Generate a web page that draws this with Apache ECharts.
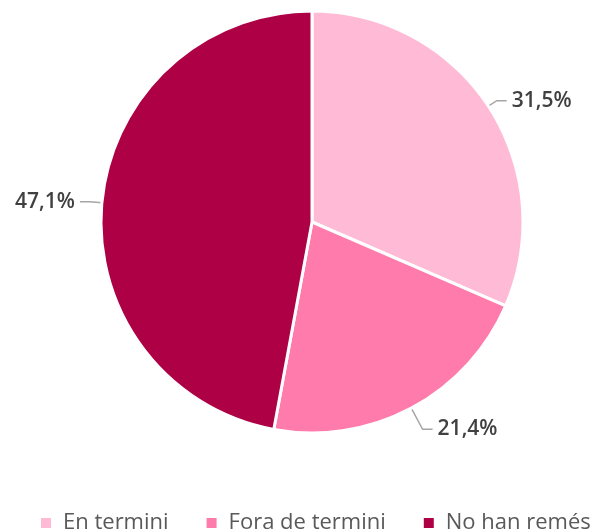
<!DOCTYPE html>
<html>
<head>
<meta charset="utf-8">
<script src="https://cdn.jsdelivr.net/npm/echarts@6/dist/echarts.min.js"></script>
<style>
  html, body { margin: 0; padding: 0; background: #fff; }
  #chart { width: 602px; height: 532px; }
</style>
</head>
<body>
<div id="chart"></div>
<script>
// categories and percentages
let categories = ['En termini', 'Fora de termini', 'No han remés']
let values = [31.5, 21.4, 47.1]
let colors = ['#FFBBD6', '#FF7BAC', '#AD0045']
let lineLengths = [10, 24, 12]

let chart = echarts.init(document.getElementById('chart'))

let pieData = []
for (let i = 0; i < categories.length; i++) {
  pieData.push({
    name: categories[i],
    value: values[i],
    itemStyle: { color: colors[i] },
    labelLine: { length: lineLengths[i] }
  })
}

let option = {
  animation: false,
  legend: {
    top: 507,
    left: 34,
    width: 580,
    icon: 'rect',
    itemWidth: 12,
    itemHeight: 12,
    itemGap: 36,
    textStyle: { fontFamily: 'Open Sans', fontSize: 22, color: '#595959', padding: [0, 0, 0, 6] },
    data: categories
  },
  series: [
    {
      type: 'pie',
      center: [312, 222],
      radius: 211,
      startAngle: 90,
      clockwise: true,
      itemStyle: { borderColor: '#fff', borderWidth: 3 },
      label: {
        show: true,
        overflow: 'none',
        fontFamily: 'Open Sans',
        fontSize: 21,
        fontWeight: 600,
        color: '#404040',
        formatter: function (p) {
          return p.value.toFixed(1).replace('.', ',') + '%'
        }
      },
      labelLine: {
        show: true,
        length: 12,
        length2: 10,
        lineStyle: { color: '#a6a6a6', width: 1.5 }
      },
      data: pieData
    }
  ]
}
chart.setOption(option)
</script>
</body>
</html>
